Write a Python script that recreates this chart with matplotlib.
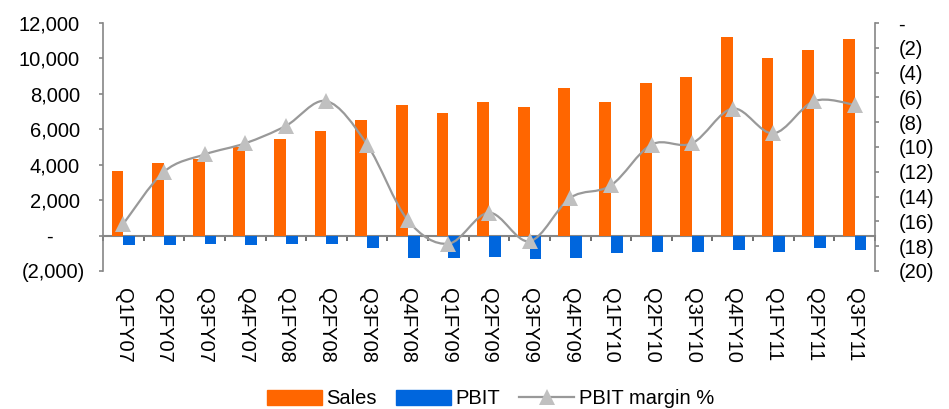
import numpy as np
import matplotlib
matplotlib.use("Agg")
import matplotlib.pyplot as plt
from matplotlib.path import Path
from matplotlib.patches import PathPatch
from matplotlib.lines import Line2D
from matplotlib.ticker import FixedLocator, FuncFormatter

plt.rcParams['font.family'] = ['Liberation Sans', 'DejaVu Sans']

quarters = ["Q1FY07", "Q2FY07", "Q3FY07", "Q4FY07", "Q1FY08", "Q2FY08", "Q3FY08",
            "Q4FY08", "Q1FY09", "Q2FY09", "Q3FY09", "Q4FY09", "Q1FY10", "Q2FY10",
            "Q3FY10", "Q4FY10", "Q1FY11", "Q2FY11", "Q3FY11"]
sales = [3650, 4100, 4300, 5000, 5450, 5900, 6550, 7350, 6900, 7550, 7250, 8350,
         7550, 8600, 8950, 11200, 10050, 10500, 11100]
pbit = [-550, -550, -450, -550, -450, -450, -680, -1240, -1240, -1200, -1350, -1250,
        -1000, -900, -900, -800, -900, -680, -800]
margin = [-16.2, -12.0, -10.6, -9.7, -8.3, -6.3, -9.8, -15.9, -17.8, -15.3, -17.6,
          -14.1, -13.1, -9.8, -9.7, -6.9, -8.9, -6.3, -6.6]

left_ticks = [-2000, 0, 2000, 4000, 6000, 8000, 10000, 12000]
right_ticks = [0, -2, -4, -6, -8, -10, -12, -14, -16, -18, -20]

ORANGE = "#FF6600"
BLUE = "#0066DD"
LINE = "#999999"
MARK = "#C0C0C0"
AXC = "#868686"
FS = 14.5

W, H = 949, 409
fig = plt.figure(figsize=(W / 100, H / 100), dpi=100)
x0, x1, ytop, ybot = 103, 875, 23, 271
ax = fig.add_axes([x0 / W, (H - ybot) / H, (x1 - x0) / W, (ybot - ytop) / H])

x = np.arange(len(quarters))
bw = 0.29
ax.bar(x - bw / 2, sales, width=bw, color=ORANGE, zorder=2)
ax.bar(x + bw / 2, pbit, width=bw, color=BLUE, zorder=2)
ax.set_xlim(-0.5, len(quarters) - 0.5)
ax.set_ylim(-2000, 12000)

for s in ['top', 'bottom', 'right']:
    ax.spines[s].set_visible(False)
ax.spines['left'].set_color(AXC)
ax.spines['left'].set_linewidth(1.2)


def lfmt(v, pos):
    if v == 0:
        return "-"
    if v < 0:
        return "({:,.0f})".format(-v)
    return "{:,.0f}".format(v)


ax.yaxis.set_major_locator(FixedLocator(left_ticks))
ax.yaxis.set_major_formatter(FuncFormatter(lfmt))
ax.tick_params(axis='y', direction='out', length=3, width=1.2, color=AXC,
               labelsize=FS, pad=13.5)
ax.set_xticks(x)
ax.set_xticklabels(quarters, rotation=270, fontsize=FS, ha='center', va='top')
ax.tick_params(axis='x', length=0, pad=12)

# per-label padding (accounting-style alignment)
for tick, v in zip(ax.yaxis.get_major_ticks(), left_ticks):
    if v == 0:
        tick.set_pad(33)
    elif v < 0:
        tick.set_pad(10)

# zero axis line with boundary ticks
sec = ax.secondary_xaxis(2000 / 14000)
sec.spines['bottom'].set_color(AXC)
sec.spines['bottom'].set_linewidth(1.5)
sec.set_xticks(np.arange(-0.5, len(quarters), 1.0))
sec.set_xticklabels([])
sec.tick_params(axis='x', direction='out', length=3.6, width=1.2, color="#555555")

ax2 = ax.twinx()
ax2.set_ylim(-20, 0)
for s in ['top', 'bottom', 'left']:
    ax2.spines[s].set_visible(False)
ax2.spines['right'].set_color(AXC)
ax2.spines['right'].set_linewidth(1.2)


def rfmt(v, pos):
    if v == 0:
        return "-"
    return "({:.0f})".format(-v)


ax2.yaxis.set_major_locator(FixedLocator(right_ticks))
ax2.yaxis.set_major_formatter(FuncFormatter(rfmt))
ax2.tick_params(axis='y', direction='out', length=3, width=1.2, color=AXC,
                labelsize=FS, pad=14)

# smoothed line (Catmull-Rom style, as Excel smoothing)
pts = np.column_stack([x, margin]).astype(float)
verts = [tuple(pts[0])]
codes = [Path.MOVETO]
n = len(pts)
for i in range(n - 1):
    p0 = pts[i - 1] if i > 0 else pts[i]
    p1 = pts[i]
    p2 = pts[i + 1]
    p3 = pts[i + 2] if i + 2 < n else pts[i + 1]
    c1 = p1 + (p2 - p0) / 6.0
    c2 = p2 - (p3 - p1) / 6.0
    verts += [tuple(c1), tuple(c2), tuple(p2)]
    codes += [Path.CURVE4] * 3
ax2.add_patch(PathPatch(Path(verts, codes), facecolor='none', edgecolor=LINE,
                        lw=1.6, zorder=3))
ax2.plot(x, margin, linestyle='none', marker='^', markersize=11,
         color=MARK, markeredgewidth=0, zorder=4)

handles = [
    plt.Rectangle((0, 0), 1, 1, color=ORANGE),
    plt.Rectangle((0, 0), 1, 1, color=BLUE),
    Line2D([], [], color=LINE, lw=1.6, marker='^', markersize=11,
           markerfacecolor=MARK, markeredgewidth=0),
]
fig.legend(handles, ["Sales", "PBIT", "PBIT margin %"], loc='center',
           bbox_to_anchor=(0.517, 0.025), ncol=3, frameon=False, fontsize=FS,
           handlelength=2.7, handleheight=0.8, handletextpad=0.25,
           columnspacing=0.95, borderpad=0, borderaxespad=0)

fig.savefig("out.png", dpi=100)
